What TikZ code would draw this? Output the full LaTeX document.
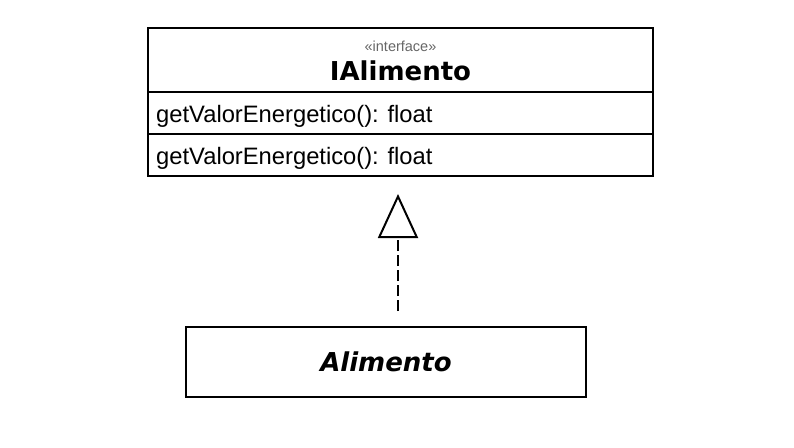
\documentclass[tikz,border=0pt]{standalone}
\usepackage{fontspec}
\setmainfont{Liberation Sans}
\newfontfamily\headfont{DejaVu Sans}
\usetikzlibrary{positioning,arrows.meta}

\begin{document}
\begin{tikzpicture}[x=1pt,y=-1pt,
    umlbox/.style={draw,line width=2pt,outer sep=0pt,inner sep=0pt,minimum width=505pt},
    stereo/.style={inner sep=0pt,text=black!60,font=\fontsize{14.5}{17}\selectfont},
    classname/.style={inner sep=0pt,font=\headfont\bfseries\fontsize{26}{30}\selectfont},
    abstractname/.style={inner sep=0pt,font=\headfont\bfseries\itshape\fontsize{26}{30}\selectfont},
    member/.style={inner sep=0pt,anchor=west,font=\fontsize{23.75}{28}\selectfont},
    realize/.style={line width=2pt,dash pattern=on 11pt off 4pt,
        -{Triangle[open,length=44pt,width=40pt]},shorten <=16pt,shorten >=18pt}]
    \useasboundingbox (0,0) rectangle (794,447);

    % Draw interface box with its compartments
    \node[umlbox,minimum height=64pt] (head) at (400.5,60) {};
    \node[umlbox,minimum height=42pt,below=0pt of head] (attrs) {};
    \node[umlbox,minimum height=42pt,below=0pt of attrs] (ops) {};

    % Interface name and members
    \node[stereo] (stereotype) at (400.5,46) {«interface»};
    \node[classname] (name) at (400.5,70.5) {IAlimento};
    \node[member] (attr) at (attrs.west) [xshift=8pt,yshift=-3pt] {getValorEnergetico(): float};
    \node[member] (op) at (ops.west) [xshift=8pt,yshift=-3pt] {getValorEnergetico(): float};

    % Draw implementing class
    \node[umlbox,abstractname,minimum width=400pt,minimum height=70pt]
        (impl) at (386,362) {Alimento};

    % Realization arrow
    \draw[realize] ([xshift=12pt]impl.north) -- ([xshift=-2.5pt]ops.south);
\end{tikzpicture}
\end{document}
